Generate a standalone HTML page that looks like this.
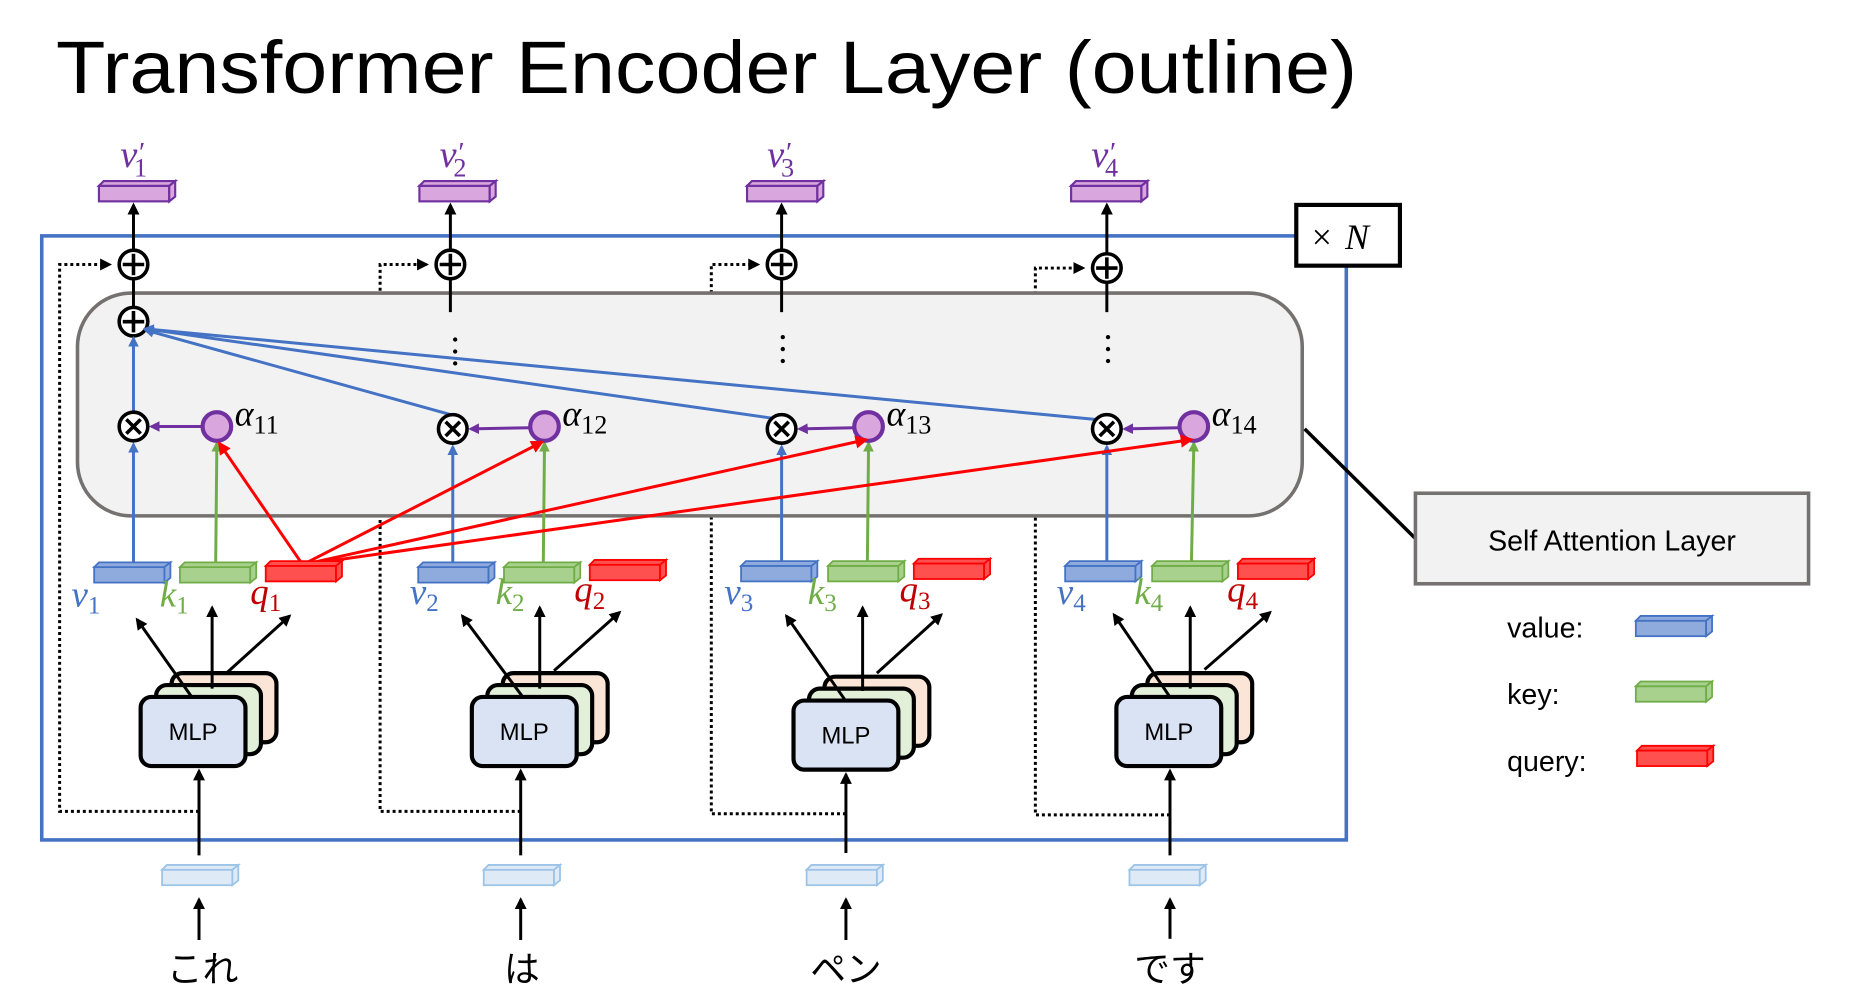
<!DOCTYPE html>
<html><head><meta charset="utf-8">
<style>
html,body{margin:0;padding:0;background:#fff;}
svg{display:block;}
.sf{font-family:"Liberation Serif",serif;font-style:italic;}
.ss{font-family:"Liberation Sans","Noto Sans CJK JP",sans-serif;}
</style></head>
<body>
<svg width="1867" height="996" viewBox="0 0 1567 836" xmlns="http://www.w3.org/2000/svg" xmlns:xlink="http://www.w3.org/1999/xlink">
<defs>
  <g id="bx">
    <rect x="0" y="4" width="59" height="13"/>
    <polygon points="0,4 4,0 64,0 59,4"/>
    <polygon points="59,4 64,0 64,13 59,17"/>
  </g>
  <marker id="ak" markerWidth="10" markerHeight="10" refX="8" refY="5" orient="auto" markerUnits="userSpaceOnUse"><path d="M0,0 L10,5 L0,10 z" fill="#000"/></marker>
  <marker id="ab" markerWidth="9" markerHeight="9" refX="7" refY="4.5" orient="auto" markerUnits="userSpaceOnUse"><path d="M0,0 L9,4.5 L0,9 z" fill="#4472c4"/></marker>
  <marker id="ag" markerWidth="9" markerHeight="9" refX="7" refY="4.5" orient="auto" markerUnits="userSpaceOnUse"><path d="M0,0 L9,4.5 L0,9 z" fill="#70ad47"/></marker>
  <marker id="ar" markerWidth="11" markerHeight="11" refX="9" refY="5.5" orient="auto" markerUnits="userSpaceOnUse"><path d="M0,0 L11,5.5 L0,11 z" fill="#ff0000"/></marker>
  <marker id="ap" markerWidth="9" markerHeight="9" refX="7" refY="4.5" orient="auto" markerUnits="userSpaceOnUse"><path d="M0,0 L9,4.5 L0,9 z" fill="#7030a0"/></marker>
</defs>

<text x="47" y="78" class="ss" font-size="62" textLength="1092" lengthAdjust="spacingAndGlyphs">Transformer Encoder Layer (outline)</text>

<rect x="35" y="198" width="1095" height="507" fill="none" stroke="#4472c4" stroke-width="3"/>

<g fill="none" stroke="#000" stroke-width="2.5" stroke-dasharray="2.5,2.5">
  <path d="M167,681 H50 V222 H92" marker-end="url(#ak)"/>
  <path d="M437,681 H319 V222 H358" marker-end="url(#ak)"/>
  <path d="M710,683 H597 V222 H636" marker-end="url(#ak)"/>
  <path d="M982,684 H869 V225 H909" marker-end="url(#ak)"/>
</g>

<rect x="65" y="246" width="1028" height="187" rx="45" fill="#f2f2f2" stroke="#767171" stroke-width="3"/>

<rect x="1088" y="172" width="87" height="51" fill="#fff" stroke="#000" stroke-width="3.5"/>
<text x="1101" y="209" font-size="30" font-family="Liberation Serif,serif">×</text>
<text x="1129" y="209" font-size="30" class="sf">N</text>

<line x1="1095" y1="360" x2="1188" y2="452" stroke="#000" stroke-width="3"/>
<rect x="1188" y="414" width="330" height="76" fill="#f2f2f2" stroke="#767171" stroke-width="3"/>
<text x="1353" y="462" text-anchor="middle" class="ss" font-size="24">Self Attention Layer</text>

<text x="1265" y="535" class="ss" font-size="24">value:</text>
<text x="1265" y="591" class="ss" font-size="24">key:</text>
<text x="1265" y="647" class="ss" font-size="24">query:</text>
<use xlink:href="#bx" x="1373" y="517" fill="#8faadc" stroke="#4472c4" stroke-width="1.5"/>
<use xlink:href="#bx" x="1373" y="572" fill="#a9d18e" stroke="#70ad47" stroke-width="1.5"/>
<use xlink:href="#bx" x="1374" y="626" fill="#ff5050" stroke="#ff0000" stroke-width="1.5"/>

<g fill="#d9a6de" stroke="#7030a0" stroke-width="1.8">
  <use xlink:href="#bx" x="83" y="152"/>
  <use xlink:href="#bx" x="352" y="152"/>
  <use xlink:href="#bx" x="627" y="152"/>
  <use xlink:href="#bx" x="899" y="152"/>
</g>
<g class="sf" font-size="32" fill="#7030a0">
  <text x="101" y="140">v<tspan font-size="24" dx="0" dy="-4">′</tspan><tspan font-size="22" font-style="normal" dx="-8" dy="12">1</tspan></text>
  <text x="369" y="140">v<tspan font-size="24" dx="0" dy="-4">′</tspan><tspan font-size="22" font-style="normal" dx="-8" dy="12">2</tspan></text>
  <text x="644" y="140">v<tspan font-size="24" dx="0" dy="-4">′</tspan><tspan font-size="22" font-style="normal" dx="-8" dy="12">3</tspan></text>
  <text x="916" y="140">v<tspan font-size="24" dx="0" dy="-4">′</tspan><tspan font-size="22" font-style="normal" dx="-8" dy="12">4</tspan></text>
</g>
<g stroke="#000" stroke-width="2.5" fill="none">
  <line x1="112" y1="210" x2="112" y2="172" marker-end="url(#ak)"/>
  <line x1="378" y1="210" x2="378" y2="172" marker-end="url(#ak)"/>
  <line x1="656" y1="210" x2="656" y2="172" marker-end="url(#ak)"/>
  <line x1="929" y1="212" x2="929" y2="172" marker-end="url(#ak)"/>
  <line x1="112" y1="234" x2="112" y2="258"/>
  <line x1="378" y1="234" x2="378" y2="262"/>
  <line x1="656" y1="234" x2="656" y2="262"/>
  <line x1="929" y1="237" x2="929" y2="262"/>
</g>
<g fill="#000">
  <circle cx="382" cy="285" r="1.8"/><circle cx="382" cy="295" r="1.8"/><circle cx="382" cy="305" r="1.8"/>
  <circle cx="657" cy="283" r="1.8"/><circle cx="657" cy="293" r="1.8"/><circle cx="657" cy="303" r="1.8"/>
  <circle cx="930" cy="283" r="1.8"/><circle cx="930" cy="293" r="1.8"/><circle cx="930" cy="303" r="1.8"/>
</g>

<g stroke="#000" stroke-width="3" fill="#fff">
  <circle cx="112" cy="222" r="12"/>
  <circle cx="378" cy="222" r="12"/>
  <circle cx="656" cy="222" r="12"/>
  <circle cx="929" cy="225" r="12"/>
  <circle cx="112" cy="270" r="12"/>
</g>
<g stroke="#000" stroke-width="3">
  <line x1="103" y1="222" x2="121" y2="222"/><line x1="112" y1="213" x2="112" y2="231"/>
  <line x1="369" y1="222" x2="387" y2="222"/><line x1="378" y1="213" x2="378" y2="231"/>
  <line x1="647" y1="222" x2="665" y2="222"/><line x1="656" y1="213" x2="656" y2="231"/>
  <line x1="920" y1="225" x2="938" y2="225"/><line x1="929" y1="216" x2="929" y2="234"/>
  <line x1="103" y1="270" x2="121" y2="270"/><line x1="112" y1="261" x2="112" y2="279"/>
</g>

<g stroke="#4472c4" stroke-width="2.5" fill="none">
  <line x1="112" y1="345" x2="112" y2="284" marker-end="url(#ab)"/>
  <line x1="378" y1="348" x2="122" y2="277" marker-end="url(#ab)"/>
  <line x1="648" y1="351" x2="122" y2="276" marker-end="url(#ab)"/>
  <line x1="919" y1="352" x2="122" y2="276" marker-end="url(#ab)"/>
  <line x1="112" y1="472" x2="112" y2="373" marker-end="url(#ab)"/>
  <line x1="380" y1="472" x2="380" y2="375" marker-end="url(#ab)"/>
  <line x1="656" y1="472" x2="656" y2="375" marker-end="url(#ab)"/>
  <line x1="929" y1="472" x2="929" y2="375" marker-end="url(#ab)"/>
</g>
<g stroke="#70ad47" stroke-width="2.5" fill="none">
  <line x1="181" y1="472" x2="182" y2="372" marker-end="url(#ag)"/>
  <line x1="456" y1="472" x2="457" y2="372" marker-end="url(#ag)"/>
  <line x1="728" y1="472" x2="729" y2="372" marker-end="url(#ag)"/>
  <line x1="1000" y1="472" x2="1002" y2="372" marker-end="url(#ag)"/>
</g>
<g stroke="#7030a0" stroke-width="2.5" fill="none">
  <line x1="170" y1="358" x2="127" y2="358" marker-end="url(#ap)"/>
  <line x1="445" y1="359" x2="395" y2="360" marker-end="url(#ap)"/>
  <line x1="717" y1="359" x2="671" y2="360" marker-end="url(#ap)"/>
  <line x1="990" y1="359" x2="944" y2="360" marker-end="url(#ap)"/>
</g>

<g stroke="#000" stroke-width="3" fill="#fff">
  <circle cx="112" cy="358" r="12"/>
  <circle cx="380" cy="360" r="12"/>
  <circle cx="656" cy="360" r="12"/>
  <circle cx="929" cy="360" r="12"/>
</g>
<g stroke="#000" stroke-width="3">
  <path d="M106,352 L118,364 M118,352 L106,364"/>
  <path d="M374,354 L386,366 M386,354 L374,366"/>
  <path d="M650,354 L662,366 M662,354 L650,366"/>
  <path d="M923,354 L935,366 M935,354 L923,366"/>
</g>
<g stroke="#7030a0" stroke-width="3.5" fill="#d9a6de">
  <circle cx="182" cy="358" r="12"/>
  <circle cx="457" cy="358" r="12"/>
  <circle cx="729" cy="358" r="12"/>
  <circle cx="1002" cy="358" r="12"/>
</g>
<g class="sf" font-size="30" fill="#000">
  <text x="197" y="357">α<tspan font-style="normal" font-size="22" dy="7">11</tspan></text>
  <text x="472" y="357">α<tspan font-style="normal" font-size="22" dy="7">12</tspan></text>
  <text x="744" y="357">α<tspan font-style="normal" font-size="22" dy="7">13</tspan></text>
  <text x="1017" y="357">α<tspan font-style="normal" font-size="22" dy="7">14</tspan></text>
</g>

<g stroke="#ff0000" stroke-width="2.5" fill="none">
  <line x1="254" y1="474" x2="184" y2="372" marker-end="url(#ar)"/>
  <line x1="254" y1="474" x2="455" y2="371" marker-end="url(#ar)"/>
  <line x1="254" y1="474" x2="727" y2="369" marker-end="url(#ar)"/>
  <line x1="254" y1="474" x2="1000" y2="369" marker-end="url(#ar)"/>
</g>

<g fill="#8faadc" stroke="#4472c4" stroke-width="1.5">
  <use xlink:href="#bx" x="79" y="472"/><use xlink:href="#bx" x="351" y="472"/>
  <use xlink:href="#bx" x="622" y="471"/><use xlink:href="#bx" x="894" y="471"/>
</g>
<g fill="#a9d18e" stroke="#70ad47" stroke-width="1.5">
  <use xlink:href="#bx" x="151" y="472"/><use xlink:href="#bx" x="423" y="472"/>
  <use xlink:href="#bx" x="695" y="471"/><use xlink:href="#bx" x="967" y="471"/>
</g>
<g fill="#ff5050" stroke="#ff0000" stroke-width="1.5">
  <use xlink:href="#bx" x="223" y="471"/><use xlink:href="#bx" x="495" y="470"/>
  <use xlink:href="#bx" x="767" y="469"/><use xlink:href="#bx" x="1039" y="469"/>
</g>
<g class="sf" font-size="31">
  <g fill="#4472c4">
    <text x="60" y="509">v<tspan font-style="normal" font-size="21" dy="6">1</tspan></text>
    <text x="344" y="507">v<tspan font-style="normal" font-size="21" dy="6">2</tspan></text>
    <text x="608" y="507">v<tspan font-style="normal" font-size="21" dy="6">3</tspan></text>
    <text x="887" y="507">v<tspan font-style="normal" font-size="21" dy="6">4</tspan></text>
  </g>
  <g fill="#70ad47">
    <text x="134" y="509">k<tspan font-style="normal" font-size="21" dy="6">1</tspan></text>
    <text x="416" y="507">k<tspan font-style="normal" font-size="21" dy="6">2</tspan></text>
    <text x="678" y="507">k<tspan font-style="normal" font-size="21" dy="6">3</tspan></text>
    <text x="952" y="507">k<tspan font-style="normal" font-size="21" dy="6">4</tspan></text>
  </g>
  <g fill="#c00000">
    <text x="210" y="507">q<tspan font-style="normal" font-size="21" dy="6">1</tspan></text>
    <text x="482" y="505">q<tspan font-style="normal" font-size="21" dy="6">2</tspan></text>
    <text x="755" y="505">q<tspan font-style="normal" font-size="21" dy="6">3</tspan></text>
    <text x="1030" y="505">q<tspan font-style="normal" font-size="21" dy="6">4</tspan></text>
  </g>
</g>

<g stroke="#000" stroke-width="3.5">
  <g transform="translate(118,585)">
    <rect x="26" y="-20" width="88" height="58" rx="9" fill="#fbe5d6"/>
    <rect x="13" y="-10" width="88" height="58" rx="9" fill="#e2f0d9"/>
  </g>
  <g transform="translate(396,585)">
    <rect x="26" y="-20" width="88" height="58" rx="9" fill="#fbe5d6"/>
    <rect x="13" y="-10" width="88" height="58" rx="9" fill="#e2f0d9"/>
  </g>
  <g transform="translate(666,588)">
    <rect x="26" y="-20" width="88" height="58" rx="9" fill="#fbe5d6"/>
    <rect x="13" y="-10" width="88" height="58" rx="9" fill="#e2f0d9"/>
  </g>
  <g transform="translate(937,585)">
    <rect x="26" y="-20" width="88" height="58" rx="9" fill="#fbe5d6"/>
    <rect x="13" y="-10" width="88" height="58" rx="9" fill="#e2f0d9"/>
  </g>
</g>
<g stroke="#000" stroke-width="2.5" fill="none">
  <line x1="163" y1="588" x2="115" y2="520" marker-end="url(#ak)"/>
  <line x1="178" y1="578" x2="178" y2="510" marker-end="url(#ak)"/>
  <line x1="190" y1="565" x2="243" y2="517" marker-end="url(#ak)"/>
  <line x1="441" y1="588" x2="388" y2="517" marker-end="url(#ak)"/>
  <line x1="453" y1="578" x2="453" y2="510" marker-end="url(#ak)"/>
  <line x1="465" y1="563" x2="520" y2="514" marker-end="url(#ak)"/>
  <line x1="711" y1="590" x2="660" y2="517" marker-end="url(#ak)"/>
  <line x1="724" y1="580" x2="724" y2="510" marker-end="url(#ak)"/>
  <line x1="736" y1="565" x2="790" y2="516" marker-end="url(#ak)"/>
  <line x1="984" y1="588" x2="935" y2="516" marker-end="url(#ak)"/>
  <line x1="999" y1="578" x2="999" y2="510" marker-end="url(#ak)"/>
  <line x1="1011" y1="562" x2="1066" y2="514" marker-end="url(#ak)"/>
</g>
<g stroke="#000" stroke-width="3.5" fill="#dae3f3">
  <rect x="118" y="585" width="88" height="58" rx="9"/>
  <rect x="396" y="585" width="88" height="58" rx="9"/>
  <rect x="666" y="588" width="88" height="58" rx="9"/>
  <rect x="937" y="585" width="88" height="58" rx="9"/>
</g>
<g class="ss" font-size="20" text-anchor="middle">
  <text x="162" y="621">MLP</text>
  <text x="440" y="621">MLP</text>
  <text x="710" y="624">MLP</text>
  <text x="981" y="621">MLP</text>
</g>

<g stroke="#000" stroke-width="2.5">
  <line x1="167" y1="718" x2="167" y2="647" marker-end="url(#ak)"/>
  <line x1="437" y1="718" x2="437" y2="647" marker-end="url(#ak)"/>
  <line x1="710" y1="716" x2="710" y2="650" marker-end="url(#ak)"/>
  <line x1="982" y1="718" x2="982" y2="647" marker-end="url(#ak)"/>
  <line x1="167" y1="789" x2="167" y2="755" marker-end="url(#ak)"/>
  <line x1="437" y1="789" x2="437" y2="755" marker-end="url(#ak)"/>
  <line x1="710" y1="789" x2="710" y2="755" marker-end="url(#ak)"/>
  <line x1="982" y1="788" x2="982" y2="755" marker-end="url(#ak)"/>
</g>
<g fill="#deebf7" stroke="#9dc3e6" stroke-width="1.5">
  <use xlink:href="#bx" x="136" y="726"/>
  <use xlink:href="#bx" x="406" y="726"/>
  <use xlink:href="#bx" x="677" y="726"/>
  <use xlink:href="#bx" x="948" y="726"/>
</g>
<g class="ss" font-size="30" text-anchor="middle">
  <text x="170" y="824">これ</text>
  <text x="438" y="824">は</text>
  <text x="710" y="824">ペン</text>
  <text x="982" y="824">です</text>
</g>
</svg>
</body></html>
